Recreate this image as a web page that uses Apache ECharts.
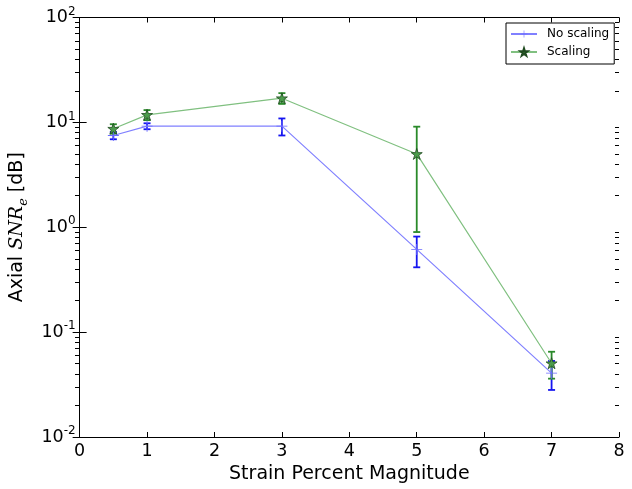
<!DOCTYPE html>
<html>
<head>
<meta charset="utf-8">
<script src="https://cdn.jsdelivr.net/npm/echarts@6/dist/echarts.min.js"></script>
<style>
html,body{margin:0;padding:0;background:#fff;}
#chart{width:632px;height:489px;}
</style>
</head>
<body>
<div id="chart"></div>
<script>
const xValues = [0.5, 1, 3, 5, 7];
const noScaling = [7.5, 9.2, 9.2, 0.615, 0.0406];
const noScalingErr = [0.6, 0.6, 1.7, 0.2, 0.0125];
const scaling = [8.7, 11.8, 17.0, 5.0, 0.0505];
const scalingErr = [0.9, 1.3, 2.0, 4.1, 0.0145];
const seriesNames = ['No scaling', 'Scaling'];
const xTicks = [0, 1, 2, 3, 4, 5, 6, 7, 8];
const yDecades = [0.01, 0.1, 1, 10];
const yMinorSteps = [2, 3, 4, 5, 6, 7, 8, 9];

const FONT = 'DejaVu Sans';
const plusPath = 'path://M0,4.6H10V5.4H0Z M4.6,0H5.4V10H4.6Z';
const starPath = 'path://M50,0 L61.8,35.4 L99,35.4 L68.9,57.3 L80.4,92.7 L50,70.8 L19.6,92.7 L31.1,57.3 L1,35.4 L38.2,35.4 Z';

function pairs(ys) { return xValues.map((x, i) => [x, ys[i]]); }
function errData(ys, es) { return xValues.map((x, i) => [x, ys[i] - es[i], ys[i] + es[i]]); }
const minorTickValues = [];
yDecades.forEach(d => yMinorSteps.forEach(m => minorTickValues.push(+(d * m).toPrecision(6))));

function errRender(color) {
  return function (params, api) {
    const x = api.value(0);
    const lo = api.coord([x, api.value(1)]);
    const hi = api.coord([x, api.value(2)]);
    const cap = 3.5;
    const st = { stroke: color, lineWidth: 1.8 };
    return {
      type: 'group',
      children: [
        { type: 'line', shape: { x1: lo[0], y1: lo[1], x2: hi[0], y2: hi[1] }, style: st },
        { type: 'line', shape: { x1: lo[0] - cap, y1: lo[1], x2: lo[0] + cap, y2: lo[1] }, style: st },
        { type: 'line', shape: { x1: hi[0] - cap, y1: hi[1], x2: hi[0] + cap, y2: hi[1] }, style: st }
      ]
    };
  };
}

function expLabel(v) {
  const e = Math.round(Math.log10(v));
  return '{b|10}{s|' + e + '}';
}

const axisLineStyle = { color: '#000', width: 1 };
const gridRect = { left: 75, right: 13, top: 17.5, bottom: 52, containLabel: false };

function minorAxis(pos) {
  return {
    type: 'log', logBase: 10, min: 0.01, max: 100, position: pos, gridIndex: 1,
    axisLine: { show: false },
    axisTick: { show: true, inside: true, length: 4, lineStyle: { color: '#000', width: 1 }, customValues: minorTickValues },
    axisLabel: { show: false }, splitLine: { show: false }
  };
}

const chart = echarts.init(document.getElementById('chart'), null, { renderer: 'canvas' });
chart.setOption({
  backgroundColor: '#fff',
  animation: false,
  textStyle: { fontFamily: FONT },
  grid: [Object.assign({}, gridRect), Object.assign({}, gridRect)],
  legend: {
    data: seriesNames,
    left: 506, top: 23,
    orient: 'vertical',
    itemWidth: 26, itemHeight: 9, itemGap: 4,
    padding: [4, 5, 5, 4],
    borderColor: '#000', borderWidth: 1,
    textStyle: { fontFamily: FONT, fontSize: 12, lineHeight: 14, color: '#000', padding: [0, 0, 0, 5] }
  },
  xAxis: [{
    type: 'value', min: 0, max: 8, interval: 1,
    name: 'Strain Percent Magnitude', nameLocation: 'middle', nameGap: 27,
    nameTextStyle: { fontFamily: FONT, fontSize: 19, color: '#000' },
    axisLine: { lineStyle: axisLineStyle },
    axisTick: { inside: true, length: 5, lineStyle: axisLineStyle },
    axisLabel: { fontFamily: FONT, fontSize: 17.5, color: '#000', margin: 5,
      formatter: v => String(xTicks[Math.round(v)]) },
    splitLine: { show: false }
  }, {
    type: 'value', min: 0, max: 8, interval: 1, position: 'top',
    axisLine: { lineStyle: axisLineStyle },
    axisTick: { inside: true, length: 5, lineStyle: axisLineStyle },
    axisLabel: { show: false }, splitLine: { show: false }
  }, {
    type: 'value', min: 0, max: 8, gridIndex: 1, show: false
  }],
  yAxis: [{
    type: 'log', logBase: 10, min: 0.01, max: 100,
    name: '{a|Axial }{i|SNR}{sub|e}{a| [dB]}', nameLocation: 'middle', nameGap: 48,
    nameTextStyle: {
      fontFamily: FONT, fontSize: 19, color: '#000',
      rich: {
        a: { fontFamily: FONT, fontSize: 19, color: '#000', lineHeight: 26 },
        i: { fontFamily: 'DejaVu Serif', fontStyle: 'italic', fontSize: 19, color: '#000', lineHeight: 26 },
        sub: { fontFamily: 'DejaVu Serif', fontStyle: 'italic', fontSize: 13, color: '#000', lineHeight: 26, verticalAlign: 'bottom' }
      }
    },
    axisLine: { lineStyle: axisLineStyle },
    axisTick: { inside: true, length: 7, lineStyle: axisLineStyle },
    minorTick: { show: false },
    axisLabel: {
      formatter: expLabel, margin: 4,
      rich: {
        b: { fontFamily: FONT, fontSize: 17.5, color: '#000', lineHeight: 24 },
        s: { fontFamily: FONT, fontSize: 12, color: '#000', lineHeight: 24, verticalAlign: 'top' }
      }
    },
    splitLine: { show: false }
  }, {
    type: 'log', logBase: 10, min: 0.01, max: 100, position: 'right',
    axisLine: { lineStyle: axisLineStyle },
    axisTick: { inside: true, length: 7, lineStyle: axisLineStyle },
    minorTick: { show: false },
    axisLabel: { show: false }, splitLine: { show: false }
  }, minorAxis('left'), minorAxis('right')],
  series: [{
    name: seriesNames[0], type: 'line', data: pairs(noScaling),
    lineStyle: { color: '#8080ff', width: 1.2 },
    itemStyle: { color: '#6a6aff' },
    symbol: plusPath, symbolSize: 11, z: 3
  }, {
    name: seriesNames[1], type: 'line', data: pairs(scaling),
    lineStyle: { color: '#80c080', width: 1.2 },
    itemStyle: { color: '#4c9c4c', borderColor: '#1f4a1f', borderWidth: 0.8 },
    symbol: starPath, symbolSize: 11, z: 3
  }, {
    type: 'custom', renderItem: errRender('#1515f0'), data: errData(noScaling, noScalingErr),
    encode: { x: 0, y: [1, 2] }, z: 2, silent: true
  }, {
    type: 'custom', renderItem: errRender('#2a8a2a'), data: errData(scaling, scalingErr),
    encode: { x: 0, y: [1, 2] }, z: 2, silent: true
  }]
});
</script>
</body>
</html>
